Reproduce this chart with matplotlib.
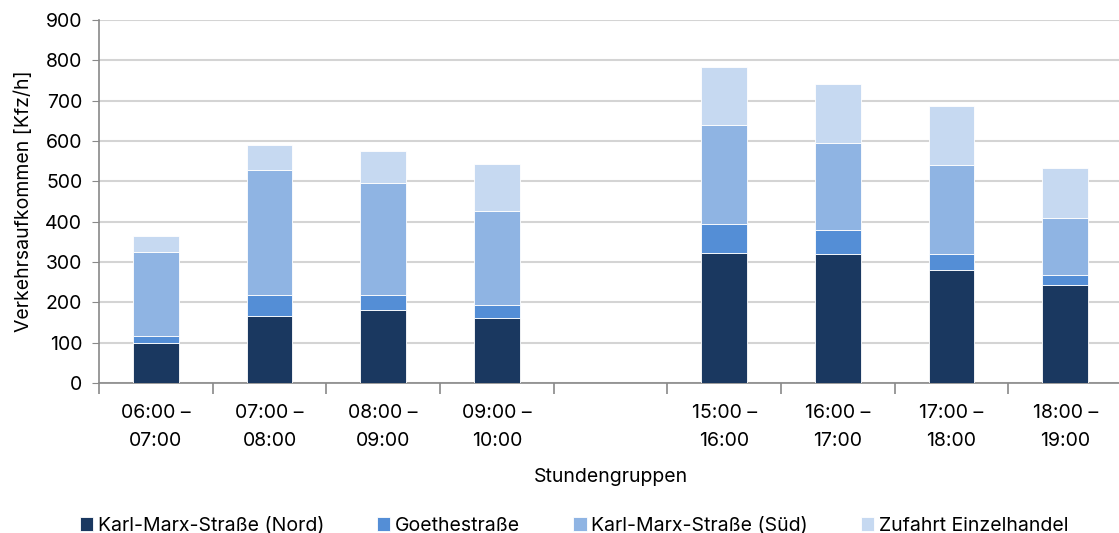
import matplotlib
matplotlib.use("Agg")
import matplotlib.pyplot as plt
import numpy as np

plt.rcParams['font.family'] = ['Inter', 'DejaVu Sans']

stunden = ["06:00 –\n07:00", "07:00 –\n08:00", "08:00 –\n09:00", "09:00 –\n10:00", "",
           "15:00 –\n16:00", "16:00 –\n17:00", "17:00 –\n18:00", "18:00 –\n19:00"]
nord = [100, 167, 180, 160, 0, 323, 319, 280, 243]
goethe = [17, 50, 37, 34, 0, 72, 60, 39, 24]
sued = [209, 312, 280, 233, 0, 244, 217, 222, 143]
zufahrt = [39, 62, 79, 116, 0, 144, 146, 147, 124]

namen = ["Karl-Marx-Straße (Nord)", "Goethestraße", "Karl-Marx-Straße (Süd)", "Zufahrt Einzelhandel"]
farben = ["#1a3860", "#548ed6", "#8fb4e3", "#c6d9f1"]

fig = plt.figure(figsize=(11.19, 5.33), dpi=100)
# plot area reaches slightly past the right edge, like the original
ax = fig.add_axes([99 / 1119, 1 - 383 / 533, (1122 - 99) / 1119, (383 - 20) / 533])

x = np.arange(len(stunden))
unten = np.zeros(len(stunden))
for werte, name, farbe in zip([nord, goethe, sued, zufahrt], namen, farben):
    werte = np.array(werte, dtype=float)
    ax.bar(x, werte, width=0.4, bottom=unten, color=farbe, edgecolor="white",
           linewidth=0.6, label=name, zorder=3)
    unten += werte

ax.set_xlim(-0.5, len(stunden) - 0.5)
ax.set_ylim(0, 900)
ax.set_yticks(range(0, 901, 100))
ax.tick_params(axis='y', labelsize=14, length=5, color="#898989", pad=7)

ax.set_xticks(x)
ax.set_xticklabels(stunden, fontsize=14, linespacing=1.75)
ax.set_xticks(np.arange(-0.5, len(stunden)), minor=True)
ax.tick_params(axis='x', which='major', length=0, pad=15)
ax.tick_params(axis='x', which='minor', length=8, color="#898989", width=1.2)

ax.grid(axis='y', color="#d4d4d4", linewidth=1.5, zorder=0)
for s in ["top", "right"]:
    ax.spines[s].set_visible(False)
ax.spines["left"].set_color("#898989")
ax.spines["bottom"].set_color("#898989")
ax.spines["left"].set_linewidth(1.2)
ax.spines["bottom"].set_linewidth(1.2)

ax.set_ylabel("Verkehrsaufkommen [Kfz/h]", fontsize=14, labelpad=9)
ax.set_xlabel("Stundengruppen", fontsize=14, labelpad=13)

fig.legend(loc="lower center", bbox_to_anchor=(0.513, -0.036), ncol=4, frameon=False,
           fontsize=14, handlelength=0.7, handleheight=0.7, handletextpad=0.25,
           columnspacing=2.7)

fig.savefig("out.png", dpi=100)
